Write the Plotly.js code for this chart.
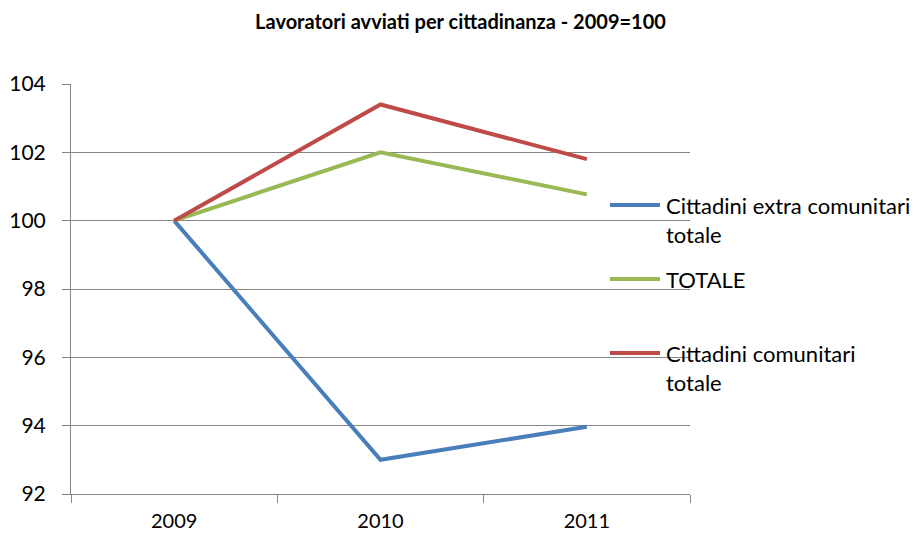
<!DOCTYPE html>
<html>
<head>
<meta charset="utf-8">
<script src="https://cdn.plot.ly/plotly-3.0.1.min.js"></script>
<style>
  html, body { margin: 0; padding: 0; background: #fff; }
  #chart { width: 921px; height: 533px; }
</style>
</head>
<body>
<div id="chart"></div>
<script>
var years = ['2009', '2010', '2011'];

var extraComunitari = [100, 93.0, 93.97];
var totale = [100, 102.0, 100.77];
var comunitari = [100, 103.4, 101.8];

var seriesNames = ['Cittadini extra comunitari<br>totale', 'TOTALE', 'Cittadini comunitari<br>totale'];
var seriesColors = ['#4A7EBB', '#98B954', '#BE4B48'];

var yTicks = [92, 94, 96, 98, 100, 102, 104];

var font = 'Lato, "Open Sans", sans-serif';

// plot box in pixels, used to place the hand drawn legend
var W = 921, H = 533;
var M = { l: 71, r: 231, t: 84, b: 39 };
function px(x) { return (x - M.l) / (W - M.l - M.r); }
function py(y) { return (H - M.b - y) / (H - M.t - M.b); }

function makeTrace(values, i) {
    return {
        x: years,
        y: values,
        name: seriesNames[i].replace('<br>', ' '),
        type: 'scatter',
        mode: 'lines',
        line: { color: seriesColors[i], width: 4 },
        hoverinfo: 'x+y+name'
    };
}

var data = [
    makeTrace(extraComunitari, 0),
    makeTrace(totale, 1),
    makeTrace(comunitari, 2)
];

// legend: key line + label, spread evenly like the original
var legendY = [205, 279, 353];
var shapes = [];
var annotations = [];
seriesNames.forEach(function (name, i) {
    var twoLines = name.indexOf('<br>') >= 0;
    shapes.push({
        type: 'line', xref: 'paper', yref: 'paper',
        x0: px(610), x1: px(660), y0: py(legendY[i]), y1: py(legendY[i]),
        line: { color: seriesColors[i], width: 4 }
    });
    annotations.push({
        xref: 'paper', yref: 'paper',
        x: px(664), y: py(legendY[i] + (twoLines ? 15 : 0)),
        xanchor: 'left', yanchor: 'middle', align: 'left',
        showarrow: false,
        text: name,
        font: { family: font, size: 22, color: '#000' }
    });
});

var layout = {
    width: W,
    height: H,
    paper_bgcolor: '#fff',
    plot_bgcolor: '#fff',
    title: {
        text: '<b>Lavoratori avviati per cittadinanza - 2009=100</b>',
        font: { family: font, size: 20, color: '#000' },
        x: 0.5, xanchor: 'center',
        y: 0.958, yanchor: 'middle'
    },
    margin: M,
    showlegend: false,
    shapes: shapes,
    annotations: annotations,
    xaxis: {
        type: 'category',
        range: [-0.5, 2.5],
        tickson: 'boundaries',
        ticks: 'outside',
        ticklen: 8,
        tickcolor: '#868686',
        showline: true,
        linecolor: '#868686',
        linewidth: 1,
        showgrid: false,
        zeroline: false,
        ticklabelstandoff: 9,
        tickfont: { family: font, size: 20, color: '#000' }
    },
    yaxis: {
        range: [92, 104],
        tickvals: yTicks,
        ticks: 'outside',
        ticklen: 8,
        tickcolor: '#868686',
        showline: true,
        linecolor: '#868686',
        linewidth: 1,
        showgrid: true,
        gridcolor: '#868686',
        gridwidth: 1,
        zeroline: false,
        ticklabelstandoff: 12,
        tickfont: { family: font, size: 21, color: '#000' }
    }
};

Plotly.newPlot('chart', data, layout, { displayModeBar: false, staticPlot: true });
</script>
</body>
</html>
